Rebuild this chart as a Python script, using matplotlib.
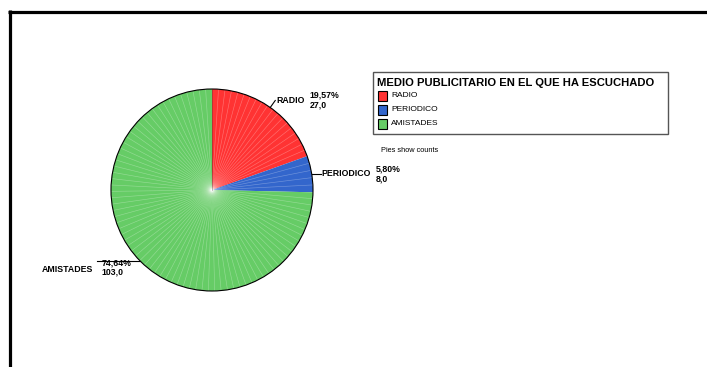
import numpy as np
import matplotlib

matplotlib.use("Agg")
import matplotlib.pyplot as plt
from matplotlib.patches import Rectangle, Circle
from matplotlib.lines import Line2D

plt.rcParams["font.family"] = ["Liberation Sans", "DejaVu Sans"]

# counts per advertising medium
categories = ["RADIO", "PERIODICO", "AMISTADES"]
counts = [27, 8, 103]
colors = ["#ff3333", "#3366cc", "#66cc66"]
legend_title = "MEDIO PUBLICITARIO EN EL QUE HA ESCUCHADO"
footnote = "Pies show counts"

W, H = 707, 367


def py(y):
    # pixel row (top-down) to data y (bottom-up)
    return H - y


fig = plt.figure(figsize=(W / 100, H / 100), dpi=100)
ax = fig.add_axes([0, 0, 1, 1])

cx, cy, r = 212, py(190), 101
total = sum(counts)
wedges, _ = ax.pie(
    counts,
    colors=colors,
    startangle=90,
    counterclock=False,
    center=(cx, cy),
    radius=r,
    frame=True,
    wedgeprops=dict(linewidth=0, edgecolor="none"),
)
ax.set_xlim(0, W)
ax.set_ylim(0, H)
ax.set_aspect("equal")
ax.axis("off")

# outer frame (runs off the right and bottom edges)
ax.add_line(Line2D([9.5, 9.5], [py(10), py(H + 5)], color="black", lw=2.3, solid_capstyle="butt"))
ax.add_line(Line2D([8, W + 5], [py(11.5), py(11.5)], color="black", lw=2.3, solid_capstyle="butt"))

# faint radial streaks inside each slice
for w in wedges:
    a0, a1 = sorted([w.theta1, w.theta2])
    n = max(int((a1 - a0) / 3.6), 1)
    for ang in np.linspace(a0, a1, n + 1)[1:-1]:
        t = np.deg2rad(ang)
        ax.plot([cx, cx + r * np.cos(t)], [cy, cy + r * np.sin(t)],
                color="white", lw=0.45, alpha=0.3, zorder=2)

ax.add_patch(Circle((cx, cy), r, fill=False, edgecolor="black", lw=0.8, zorder=3))
ax.plot([cx, cx], [cy, cy + r], color="#333333", lw=0.4, alpha=0.6, zorder=3)

# slice labels with leader lines
label_offsets = {
    "RADIO": ((5, 7), "left"),
    "PERIODICO": ((9, 0), "left"),
    "AMISTADES": ((-43, -3), "right"),
}
fs = 6.3
for w, name, cnt in zip(wedges, categories, counts):
    mid = np.deg2rad((w.theta1 + w.theta2) / 2)
    ex, ey = cx + r * np.cos(mid), cy + r * np.sin(mid)
    (dx, dy), side = label_offsets[name]
    tx, ty = ex + dx, ey + dy
    pct = f"{100 * cnt / total:.2f}%".replace(".", ",")
    val = f"{cnt:.1f}".replace(".", ",")
    if side == "left":
        ax.plot([ex, tx], [ey, ty], color="black", lw=0.8, zorder=4)
        t = ax.text(tx + 1, ty, name, fontsize=fs, fontweight="bold", ha="left", va="center")
        fig.canvas.draw()
        bb = t.get_window_extent().transformed(ax.transData.inverted())
        ax.text(bb.x1 + 5, ty + 5, pct, fontsize=fs, fontweight="bold", ha="left", va="center")
        ax.text(bb.x1 + 5, ty - 5, val, fontsize=fs, fontweight="bold", ha="left", va="center")
    else:
        ax.plot([ex, tx], [ey, ey], color="black", lw=0.8, zorder=4)
        ax.text(tx + 5, ey - 2, pct, fontsize=fs, fontweight="bold", ha="left", va="center")
        ax.text(tx + 5, ey - 11, val, fontsize=fs, fontweight="bold", ha="left", va="center")
        ax.text(tx - 4, ey - 9, name, fontsize=fs, fontweight="bold", ha="right", va="center")

# legend box
lx0, ly0, lx1, ly1 = 372.5, 71.5, 668, 133.5
ax.add_patch(Rectangle((lx0, py(ly1)), lx1 - lx0, ly1 - ly0, fill=False,
                       edgecolor="#555555", lw=1.0))
ax.text(377, py(83), legend_title, fontsize=8.1, fontweight="bold", ha="left", va="center")
for i, (name, col) in enumerate(zip(categories, colors)):
    yc = 95.5 + i * 14
    ax.add_patch(Rectangle((377.5, py(yc + 5)), 9.5, 10, facecolor=col,
                           edgecolor="black", lw=0.8))
    ax.text(391, py(yc), name, fontsize=6, ha="left", va="center")

ax.text(381, py(151), footnote, fontsize=5.3, ha="left", va="center")

fig.savefig("out.png", dpi=100)
